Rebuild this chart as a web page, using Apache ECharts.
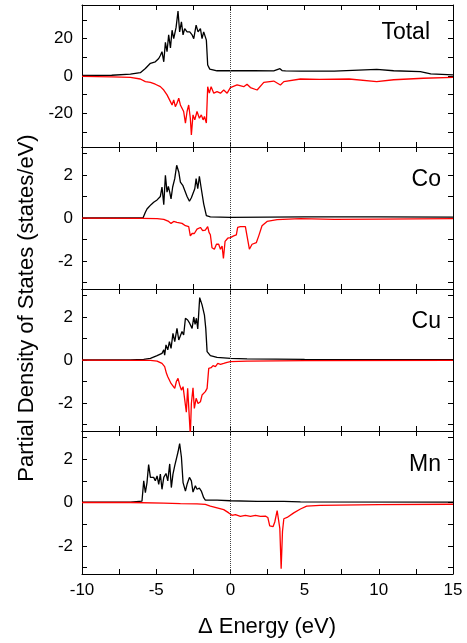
<!DOCTYPE html>
<html>
<head>
<meta charset="utf-8">
<script src="https://cdn.jsdelivr.net/npm/echarts@6/dist/echarts.min.js"></script>
<style>
    html, body { margin: 0; padding: 0; background: #fff; }
    #chart { width: 467px; height: 643px; }
</style>
</head>
<body>
<div id="chart"></div>
<script>
// spin up (black) / spin down (red), [energy eV, states/eV]
const totalUp = [[-10, 0.3], [-8, 0.4], [-6.74, 1.0], [-6.07, 1.8], [-5.73, 4.0], [-5.39, 6.8], [-5.06, 7.6], [-4.83, 9.4], [-4.72, 11], [-4.61, 13], [-4.49, 7.6], [-4.38, 18], [-4.27, 13], [-4.16, 22], [-4.04, 15], [-3.93, 24.5], [-3.82, 20], [-3.66, 26], [-3.53, 34.7], [-3.42, 23.6], [-3.30, 29], [-3.19, 22], [-3.08, 25.4], [-2.92, 23.6], [-2.74, 23.6], [-2.58, 22], [-2.47, 20], [-2.31, 27.2], [-2.18, 23.6], [-2.02, 25.4], [-1.91, 20], [-1.80, 23.6], [-1.62, 19.2], [-1.53, 5.9], [-1.39, 3.7], [-0.9, 2.8], [0, 2.8], [1.57, 2.8], [2.92, 2.7], [3.34, 3.9], [3.48, 2.9], [3.71, 2.7], [4.72, 2.6], [7, 2.6], [9.86, 3.5], [11, 2.8], [12.8, 2.3], [13.5, 1.1], [15, 0.6]]
const totalDn = [[-10, -0.2], [-8, -0.5], [-6.74, -0.7], [-6.07, -1.6], [-5.73, -3.0], [-5.39, -3.4], [-5.06, -4.4], [-4.72, -5.7], [-4.49, -7.5], [-4.27, -10.1], [-4.04, -13.7], [-3.93, -15.5], [-3.82, -12.8], [-3.71, -16.4], [-3.60, -14.6], [-3.48, -11.9], [-3.37, -15.5], [-3.26, -16.4], [-3.15, -19], [-3.03, -25.2], [-2.92, -19], [-2.81, -15.5], [-2.70, -22.6], [-2.63, -31.5], [-2.52, -20.8], [-2.40, -23.5], [-2.25, -19], [-2.09, -22.6], [-1.96, -20.8], [-1.84, -23.5], [-1.75, -21.7], [-1.62, -25.2], [-1.53, -5.7], [-1.42, -9.2], [-1.30, -5.7], [-1.12, -9.2], [-0.90, -8.4], [-0.67, -9.2], [-0.45, -7.5], [-0.22, -9.2], [0, -6.2], [0.45, -4.8], [0.90, -5.7], [1.12, -4.4], [1.35, -6.2], [1.80, -7.5], [2.25, -3.4], [2.92, -2.7], [3.37, -4.8], [3.60, -3.0], [4.72, -1.6], [6, -1.8], [8, -1.6], [9.86, -3.0], [11, -2.0], [13, -1.2], [15, -0.7]]

const coUp = [[-10, 0], [-5.89, 0], [-5.84, 0.03], [-5.73, 0.27], [-5.62, 0.42], [-5.51, 0.37], [-5.35, 0.62], [-5.17, 0.73], [-4.94, 0.84], [-4.72, 1.0], [-4.61, 1.44], [-4.49, 0.62], [-4.38, 1.98], [-4.27, 1.2], [-4.18, 1.47], [-4.09, 1.2], [-4.0, 0.89], [-3.89, 1.44], [-3.75, 1.83], [-3.62, 2.45], [-3.48, 2.14], [-3.37, 1.67], [-3.21, 1.52], [-3.08, 1.44], [-2.92, 1.0], [-2.76, 0.78], [-2.63, 0.94], [-2.52, 0.89], [-2.40, 1.36], [-2.31, 1.83], [-2.20, 1.36], [-2.09, 1.94], [-1.98, 1.44], [-1.80, 0.66], [-1.62, 0.11], [-1.35, 0.05], [0, 0.03], [5, 0.05], [10, 0.05], [15, 0.04]]
const coDn = [[-10, -0.01], [-6, -0.02], [-4.94, -0.03], [-4.49, -0.06], [-4.16, -0.16], [-4.0, -0.25], [-3.82, -0.16], [-3.60, -0.2], [-3.26, -0.25], [-3.03, -0.36], [-2.81, -0.4], [-2.70, -0.83], [-2.58, -0.72], [-2.43, -0.72], [-2.25, -0.52], [-2.02, -0.44], [-1.87, -0.59], [-1.69, -0.56], [-1.53, -0.4], [-1.44, -0.67], [-1.35, -0.78], [-1.24, -1.38], [-1.08, -1.45], [-0.94, -1.22], [-0.79, -1.22], [-0.67, -1.45], [-0.56, -1.3], [-0.47, -1.88], [-0.36, -1.09], [-0.18, -0.94], [0, -0.91], [0.22, -0.83], [0.40, -0.78], [0.49, -0.44], [0.67, -0.4], [1.01, -0.4], [1.12, -0.83], [1.28, -1.45], [1.46, -1.22], [1.75, -1.14], [1.91, -0.83], [2.13, -0.36], [2.47, -0.16], [3.15, -0.08], [4.72, -0.03], [7, -0.06], [10, -0.05], [15, -0.03]]

const cuUp = [[-10, 0], [-6.74, 0], [-5.84, 0.03], [-5.39, 0.08], [-4.94, 0.2], [-4.61, 0.31], [-4.49, 0.47], [-4.43, 0.23], [-4.34, 0.7], [-4.22, 0.47], [-4.11, 0.85], [-4.0, 0.54], [-3.87, 1.24], [-3.75, 0.85], [-3.60, 1.47], [-3.48, 0.93], [-3.37, 1.0], [-3.26, 1.32], [-3.15, 1.16], [-3.03, 1.94], [-2.88, 1.86], [-2.74, 1.7], [-2.58, 1.47], [-2.47, 2.0], [-2.38, 1.66], [-2.29, 1.94], [-2.20, 1.44], [-2.07, 2.9], [-1.91, 2.56], [-1.75, 2.09], [-1.66, 1.47], [-1.57, 0.39], [-1.35, 0.2], [-0.9, 0.12], [0, 0.08], [1.12, 0.05], [5, 0.03], [15, 0.02]]
const cuDn = [[-10, -0.01], [-6.74, -0.02], [-5.39, -0.02], [-4.94, -0.05], [-4.61, -0.16], [-4.43, -0.31], [-4.31, -0.62], [-4.22, -0.78], [-4.11, -0.73], [-4.0, -1.09], [-3.87, -1.0], [-3.75, -1.32], [-3.64, -1.0], [-3.53, -0.85], [-3.42, -1.16], [-3.30, -1.4], [-3.19, -1.24], [-3.08, -1.16], [-2.97, -2.43], [-2.88, -1.32], [-2.79, -1.24], [-2.70, -3.5], [-2.63, -2.02], [-2.52, -1.29], [-2.43, -2.25], [-2.31, -1.78], [-2.18, -2.02], [-2.02, -1.94], [-1.91, -1.63], [-1.69, -1.47], [-1.57, -1.32], [-1.46, -0.39], [-1.30, -0.36], [-1.17, -0.26], [-1.01, -0.31], [-0.85, -0.16], [-0.67, -0.2], [-0.45, -0.16], [-0.22, -0.11], [0, -0.08], [1.12, -0.05], [5, -0.03], [15, -0.02]]

const mnUp = [[-10, 0.02], [-6.74, 0.02], [-5.96, 0.06], [-5.84, 1.0], [-5.73, 0.45], [-5.62, 0.92], [-5.51, 1.75], [-5.39, 1.16], [-5.28, 1.08], [-5.17, 1.16], [-5.06, 1.0], [-4.94, 1.23], [-4.83, 0.84], [-4.72, 1.31], [-4.61, 0.61], [-4.49, 1.16], [-4.34, 1.34], [-4.22, 1.0], [-4.09, 1.78], [-3.98, 0.69], [-3.87, 1.31], [-3.75, 1.7], [-3.64, 1.63], [-3.53, 2.33], [-3.42, 2.72], [-3.30, 2.09], [-3.19, 0.92], [-3.03, 0.53], [-2.92, 0.84], [-2.76, 1.16], [-2.63, 1.0], [-2.52, 0.48], [-2.36, 0.77], [-2.25, 0.61], [-2.09, 0.66], [-1.96, 0.53], [-1.80, 0.22], [-1.69, 0.11], [-0.9, 0.11], [0, 0.08], [1.80, 0.05], [3.37, 0.05], [3.48, 0.08], [3.6, 0.05], [4.72, 0.03], [15, 0.02]]
const mnDn = [[-10, 0], [-6.74, 0], [-4.49, -0.03], [-3.37, -0.05], [-2.25, -0.06], [-1.69, -0.09], [-1.35, -0.17], [-0.9, -0.25], [-0.45, -0.33], [-0.11, -0.48], [0.11, -0.59], [0.34, -0.56], [0.67, -0.64], [1.01, -0.59], [1.35, -0.64], [1.69, -0.59], [2.02, -0.64], [2.36, -0.63], [2.52, -0.69], [2.65, -1.08], [2.88, -1.11], [2.99, -0.9], [3.15, -0.37], [3.24, -0.34], [3.33, -1.19], [3.42, -3.06], [3.51, -1.34], [3.60, -0.75], [3.82, -0.69], [4.27, -0.48], [4.72, -0.3], [5.14, -0.17], [6.04, -0.13], [10, -0.1], [15, -0.08]]

const xTicks = [-10, -7.5, -5, -2.5, 0, 2.5, 5, 7.5, 10, 12.5, 15]
const xLabels = [-10, -5, 0, 5, 10, 15]
const totalTicks = [-30, -20, -10, 0, 10, 20, 30]
const totalLabels = [-20, 0, 20]
const pdosTicks = [-3, -2, -1, 0, 1, 2, 3]
const pdosLabels = [-2, 0, 2]

const panels = [
    { name: 'Total', up: totalUp, dn: totalDn, lim: 38, ticks: totalTicks, labels: totalLabels },
    { name: 'Co', up: coUp, dn: coDn, lim: 3.3, ticks: pdosTicks, labels: pdosLabels },
    { name: 'Cu', up: cuUp, dn: cuDn, lim: 3.3, ticks: pdosTicks, labels: pdosLabels },
    { name: 'Mn', up: mnUp, dn: mnDn, lim: 3.3, ticks: pdosTicks, labels: pdosLabels }
]
const tops = [5, 147, 289, 431]
const heights = [142, 142, 142, 143]
// panel name anchor (right edge, middle)
const nameX = [430, 441, 441, 441]
const nameY = [33, 180, 322, 465]
const font = '"Liberation Sans", Arial, sans-serif'

const axisLine = { show: true, onZero: false, lineStyle: { color: '#000', width: 1 } }

const grid = []
const xAxis = []
const yAxis = []
const series = []
const graphic = []

panels.forEach((p, i) => {
    grid.push({ left: 82, right: 14, top: tops[i], height: heights[i] })
    xAxis.push({
        type: 'value', gridIndex: i, min: -10, max: 15, position: 'bottom',
        axisLine: axisLine,
        axisTick: { inside: true, length: 5, customValues: xTicks, lineStyle: { color: '#000' } },
        axisLabel: { show: i === 3, customValues: xLabels, fontSize: 17, color: '#000', fontFamily: font, margin: 8 },
        splitLine: { show: false }
    })
    xAxis.push({
        type: 'value', gridIndex: i, min: -10, max: 15, position: 'top',
        axisLine: axisLine,
        axisTick: { inside: true, length: 5, customValues: xTicks, lineStyle: { color: '#000' } },
        axisLabel: { show: false },
        splitLine: { show: false }
    })
    yAxis.push({
        type: 'value', gridIndex: i, min: -p.lim, max: p.lim, position: 'left',
        axisLine: axisLine,
        axisTick: { inside: true, length: 5, customValues: p.ticks, lineStyle: { color: '#000' } },
        axisLabel: { customValues: p.labels, fontSize: 17, color: '#000', fontFamily: font, margin: 9 },
        splitLine: { show: false }
    })
    yAxis.push({
        type: 'value', gridIndex: i, min: -p.lim, max: p.lim, position: 'right',
        axisLine: axisLine,
        axisTick: { inside: true, length: 5, customValues: p.ticks, lineStyle: { color: '#000' } },
        axisLabel: { show: false },
        splitLine: { show: false }
    })
    series.push({
        type: 'line', xAxisIndex: 2 * i, yAxisIndex: 2 * i, data: p.up,
        showSymbol: false, lineStyle: { color: '#000', width: 1.3 }, itemStyle: { color: '#000' },
        markLine: {
            silent: true, symbol: ['none', 'none'], label: { show: false },
            lineStyle: { type: 'dotted', color: '#444', width: 1 },
            data: [{ xAxis: 0 }]
        }
    })
    series.push({
        type: 'line', xAxisIndex: 2 * i, yAxisIndex: 2 * i, data: p.dn,
        showSymbol: false, lineStyle: { color: '#ff0000', width: 1.3 }, itemStyle: { color: '#ff0000' }
    })
    graphic.push({
        type: 'text', x: nameX[i], y: nameY[i],
        style: { text: p.name, font: '23px ' + font, fill: '#000', textAlign: 'right', textVerticalAlign: 'middle' }
    })
})

graphic.push({
    type: 'text', x: 27, y: 308, rotation: Math.PI / 2,
    style: { text: 'Partial Density of States (states/eV)', font: '22px ' + font, fill: '#000', textAlign: 'center', textVerticalAlign: 'middle' }
})
graphic.push({
    type: 'text', x: 267, y: 627,
    style: { text: '\u0394 Energy (eV)', font: '22px ' + font, fill: '#000', textAlign: 'center', textVerticalAlign: 'middle' }
})

const options = {
    animation: false,
    grid: grid,
    xAxis: xAxis,
    yAxis: yAxis,
    series: series,
    graphic: graphic
}

const chart = echarts.init(document.getElementById('chart'))
chart.setOption(options)
</script>
</body>
</html>
